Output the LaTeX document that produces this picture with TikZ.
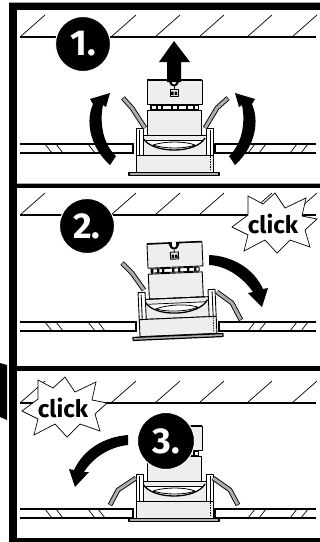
\documentclass[tikz,border=0pt]{standalone}
\usepackage{fontspec}
\setmainfont{Fira Sans}
\definecolor{bodyfill}{HTML}{EEEEEE}
\definecolor{armfill}{HTML}{ADADAD}
\tikzset{
  ink/.style={draw=black,line width=.9pt,line join=round},
  hatchline/.style={draw=black,line width=0.7pt},
  slab/.style={draw=black,line width=1.2pt},
  bold arrow/.style={fill=black,draw=none},
  numdisc/.style={circle,fill=black,draw=white,line width=1pt,minimum size=55pt,inner sep=0pt,text=white,font=\bfseries\fontsize{36}{36}\selectfont},
  clicktext/.style={inner sep=0pt,font=\bfseries\fontsize{24}{24}\selectfont},
}
\newcommand{\ceil}[1]{%
  \begin{scope}[shift={(0,#1)}]
    \draw[slab] (20,0) -- (316,0);
    \foreach \xx in {20,111,155,199,247,292}
      \draw[hatchline] (\xx,0) -- ++(25,-22);
  \end{scope}}
\newcommand{\board}[3]{%
  \begin{scope}[shift={(0,#1)}]
    \draw[slab] (20,0) -- (#2,0) -- (#2,9) -- (20,9) (316,0) -- (#3,0) -- (#3,9) -- (316,9);
    \foreach \xx in {45,56,88,98}
      \draw[hatchline] (\xx,0) -- ++(7,9);
    \foreach \xx in {248,259,290,301}
      \draw[hatchline] (\xx,9) -- ++(7,-9);
  \end{scope}}
\newcommand{\fixturebody}{%
  % upper driver box
  \draw[ink,fill=bodyfill] (147,80) rectangle (202,104);
  \draw[line width=1.4pt] (147,79.6) -- (202,79.6);
  \fill[black] (168,79) -- (180,79) -- (178,84) .. controls (177,87) and (171,87) .. (170,84) -- cycle;
  \fill[white] (172,79) -- (176,79) -- (176,83) .. controls (175.5,85) and (172.5,85) .. (172,83) -- cycle;
  \draw[ink,line width=.7pt] (174,86) -- (174,89);
  \draw[ink,fill=bodyfill,line width=.9pt] (170,89) rectangle (178,96);
  \fill[black] (171.2,91.5) rectangle (173.6,95) (174.6,91.5) rectangle (177,95);
  % ribbed neck
  \draw[ink,fill=white] (150,105) rectangle (198,109);
  \foreach \xx in {150,156,161,171,177,186,193}
    \fill[black] (\xx,105) rectangle ++(2.2,4);
  % middle box
  \draw[ink,fill=bodyfill] (147,110) rectangle (201,135);
  % yoke
  \draw[ink,fill=bodyfill] (138,135) rectangle (210,155);
  \draw[ink] (146,135) -- (203,135);
  \draw[ink,line width=.7pt] (146,140) -- (203,140);
  \fill[white] (145,141) .. controls (155,153) and (195,153) .. (204,141) -- cycle;
  \draw[line width=1.3pt] (143,138) .. controls (152,154) and (196,154) .. (205,138);
  \draw[line width=.8pt] (153,145) .. controls (165,141) and (185,141) .. (195,145);
  \draw[line width=.8pt] (153,145) .. controls (165,149) and (185,149) .. (195,145);
  % housing
  \draw[ink,fill=bodyfill] (136,155) rectangle (213,172);
  \draw[black,line width=.7pt,dash pattern=on 1.5pt off 1pt] (210,156) -- (210,171);
  % posts
  \draw[ink,fill=white] (136,128) rectangle (143,155);
  \draw[ink,fill=white] (206,128) rectangle (213,155);
  \draw[line width=.9pt] (139,130) -- (139,155) (210,130) -- (210,155);
  % trim flange
  \draw[black,fill=armfill,line width=1.2pt,line join=round] (129,172.5) rectangle (219,175.5);
}
\newcommand{\arm}[3]{%
  \draw[black,line width=4.8pt,line join=round] (#1) -- (#2) -- (#3);
  \draw[armfill,line width=3pt,line join=round,shorten <=.3pt,shorten >=.6pt] (#1) -- (#2) -- (#3);
}
\newcommand{\burst}[2]{%
  \begin{scope}[shift={(#1,#2)}]
    \draw[fill=white,line width=.7pt,line join=miter] (248,196) -- (263,204) -- (275,193) -- (285,208) -- (306,198) -- (302,216) -- (317,219) -- (305,230) -- (310,247) -- (290,240) -- (277,253) -- (265,240) -- (244,251) -- (248,235) -- (232,227) -- (248,215) -- cycle;
  \end{scope}}
\begin{document}
\begin{tikzpicture}[x=1pt,y=-1pt]
\useasboundingbox (0,0) rectangle (320,542);
\fill[white] (0,0) rectangle (320,542);
% frame
\fill[gray!70] (9,2) rectangle (320,3);
\fill[black] (9,3) rectangle (320,10);
\fill[black] (9,3) rectangle (16.5,542);
\fill[gray!70] (16.5,183) rectangle (320,184);
\fill[black] (16.5,184) rectangle (320,188);
\fill[black] (16.5,366) rectangle (320,371);
\fill[black] (16.5,538) rectangle (320,542);
\fill[black] (0,363) -- (7,365) -- (7,420) -- (0,417) -- cycle;
% panel 1
\ceil{37}
\board{144}{133}{215}
\fixturebody
\arm{145,128}{132,108}{123,98}
\arm{205,128}{217,108}{228,98}
\fill[bold arrow] (174,41) -- (190,62) -- (181,62) -- (181,82) -- (167,82) -- (167,62) -- (159,62) -- cycle;
\fill[bold arrow] (110,165) .. controls (93,150) and (84,125) .. (93,104) -- (90,99) -- (110,93) -- (106,107) -- (103,105) .. controls (99,125) and (104,145) .. (116,156) -- cycle;
\fill[bold arrow] (235,165) .. controls (252,150) and (261,125) .. (252,104) -- (255,99) -- (235,93) -- (239,107) -- (242,105) .. controls (246,125) and (241,145) .. (229,156) -- cycle;
\node[numdisc] (n1) at (83,44) {1.};
% panel 2
\ceil{215}
\board{322}{136}{219}
\begin{scope}[shift={(178,336)},rotate=2.5,shift={(-174,-173)}]
  \fixturebody
\end{scope}
\arm{144,290}{132,273}{122,263}
\arm{217,292}{232,303}{241,320}
\fill[bold arrow] (209,255) .. controls (233,256) and (254,269) .. (263,289) -- (268,288) -- (262,307) -- (248,293) -- (253,292) .. controls (244,279) and (228,266) .. (209,265) -- cycle;
\node[numdisc] (n2) at (87,226) {2.};
\burst{0}{0}
\node[clicktext] (c2) at (273,224) {click};
% panel 3
\ceil{403}
\board{509}{133}{215}
\begin{scope}[shift={(0,346)}]
  \fixturebody
\end{scope}
\arm{136,478}{118,490}{110,505}
\arm{213,478}{230,490}{238,505}
\fill[bold arrow] (128,435) .. controls (104,437) and (84,449) .. (74,470) -- (69,469) -- (75,487) -- (89,472) -- (84,472) .. controls (92,459) and (108,447) .. (128,445) -- cycle;
\node[numdisc,minimum size=57pt] (n3) at (166,441) {3.};
\burst{-210}{184}
\node[clicktext] (c3) at (63,408) {click};
\end{tikzpicture}
\end{document}
